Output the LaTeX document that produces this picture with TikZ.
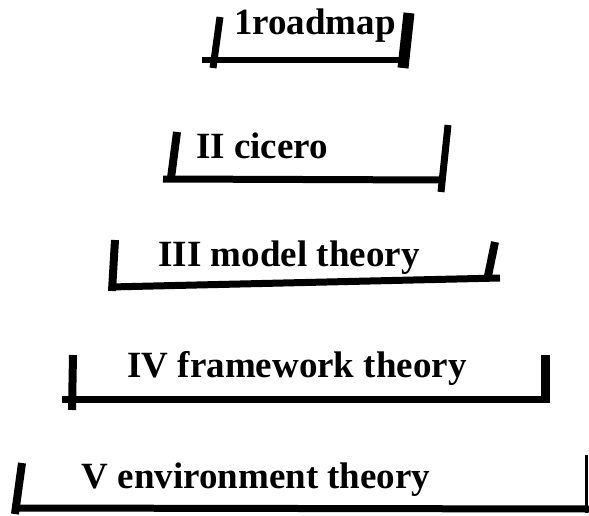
\documentclass[tikz,border=0pt]{standalone}
\usepackage{fontspec}
\setmainfont{Liberation Serif}
\tikzset{
    rotulo/.style={font=\fontsize{37}{40}\selectfont\bfseries, anchor=base, inner sep=0pt},
    barra/.style={draw=black, line width=7pt},
    traco/.style={draw=black, line width=8pt}
}

\begin{document}
\begin{tikzpicture}[x=1pt, y=-1pt]
    \useasboundingbox (0,0) rectangle (589,516);
    % nivel 1
    \node[rotulo] (roadmap) at (315,35) {1roadmap};
    \draw[traco, line width=7pt] (220,17) -- (213,68);
    \draw[barra, line width=6pt] (202,60) -- (400,60);
    \draw[traco, line width=11pt] (409,13) -- (403,68);
    % nivel 2
    \node[rotulo] (cicero) at (262,158) {II cicero};
    \draw[traco] (177,132) -- (171,178);
    \draw[barra] (163,179) -- (443,180);
    \draw[traco, line width=7pt] (448,125) -- (441,192);
    % nivel 3
    \node[rotulo] (modelo) at (289,266) {III model theory};
    \draw[traco] (115,240) -- (112,291);
    \draw[barra] (110,287) -- (500,278);
    \draw[traco] (495,242) -- (488,276);
    % nivel 4
    \node[rotulo] (quadro) at (297,377) {IV framework theory};
    \draw[traco] (73,355) -- (72,410);
    \draw[barra] (62,399) -- (550,399);
    \draw[traco, line width=9pt] (545,355) -- (545,402);
    % nivel 5
    \node[rotulo] (ambiente) at (256,488) {V environment theory};
    \draw[traco] (22,463) -- (15,514);
    \draw[barra] (12,508) -- (589,509);
    \draw[traco, line width=3pt] (586,455) -- (586,513);
\end{tikzpicture}
\end{document}
